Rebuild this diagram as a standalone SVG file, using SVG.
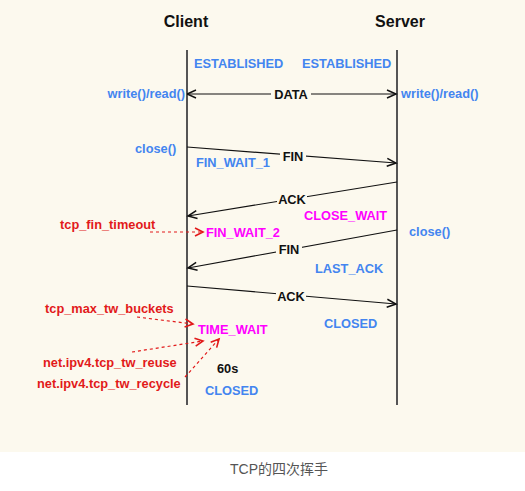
<svg xmlns="http://www.w3.org/2000/svg" width="525" height="491" viewBox="0 0 525 491">
<style>
text{font-family:"Liberation Sans",Arial,sans-serif;font-weight:bold;font-size:12.8px}
.h{font-size:16px;fill:#111}
.b{fill:#4385f0}
.m{fill:#ff00ff}
.r{fill:#e21a1a}
.k{fill:#111}
.cap{font-weight:normal;font-size:14px;fill:#555;font-family:"Liberation Sans","Noto Sans CJK SC",sans-serif}
.life{stroke:#555;stroke-width:2}
.msg{stroke:#111;stroke-width:1.2;fill:none;marker-end:url(#ah)}
.dash{stroke:#e21a1a;stroke-width:1.2;fill:none;stroke-dasharray:3 3;marker-end:url(#ahr)}
.lbl{fill:#fcf9ee}
</style>
<defs>
<marker id="ah" markerWidth="12" markerHeight="12" refX="10" refY="5" orient="auto" markerUnits="userSpaceOnUse">
<path d="M1,1 L10,5 L1,9" fill="none" stroke="#111" stroke-width="1.5"/>
</marker>
<marker id="ahs" markerWidth="12" markerHeight="12" refX="0" refY="5" orient="auto" markerUnits="userSpaceOnUse">
<path d="M9,1 L0,5 L9,9" fill="none" stroke="#111" stroke-width="1.5"/>
</marker>
<marker id="ahr" markerWidth="12" markerHeight="12" refX="9" refY="5" orient="auto" markerUnits="userSpaceOnUse">
<path d="M1,1 L9,5 L1,9" fill="none" stroke="#e21a1a" stroke-width="1.6"/>
</marker>
</defs>
<rect width="525" height="491" fill="#ffffff"/>
<rect width="525" height="452" fill="#fcf9ee"/>

<g id="client">
<text class="h" x="186" y="27" text-anchor="middle">Client</text>
<line class="life" x1="187" y1="50" x2="187" y2="405"/>
</g>
<g id="server">
<text class="h" x="400" y="27" text-anchor="middle">Server</text>
<line class="life" x1="397" y1="50" x2="397" y2="405"/>
</g>

<g id="connectors">
<line class="msg" x1="187" y1="94" x2="396" y2="94" marker-start="url(#ahs)"/>
<line class="msg" x1="187" y1="147" x2="396" y2="163"/>
<line class="msg" x1="397" y1="182" x2="188" y2="216"/>
<line class="msg" x1="397" y1="230" x2="188" y2="268"/>
<line class="msg" x1="187" y1="286" x2="396" y2="304"/>
<line class="dash" x1="150" y1="232" x2="203" y2="232"/>
<line class="dash" x1="137" y1="317" x2="193" y2="324"/>
<line class="dash" x1="132" y1="352" x2="203" y2="341"/>
<line class="dash" x1="185" y1="377" x2="219" y2="339"/>
</g>

<g id="msg-labels">
<rect class="lbl" x="271" y="85" width="40" height="16"/>
<text class="k" x="291" y="99" text-anchor="middle">DATA</text>
<rect class="lbl" x="280" y="148" width="26" height="16"/>
<text class="k" x="293" y="161" text-anchor="middle">FIN</text>
<rect class="lbl" x="277" y="191" width="30" height="16"/>
<text class="k" x="292" y="204" text-anchor="middle">ACK</text>
<rect class="lbl" x="276" y="241" width="26" height="16"/>
<text class="k" x="289" y="254" text-anchor="middle">FIN</text>
<rect class="lbl" x="276" y="288" width="30" height="16"/>
<text class="k" x="291" y="301" text-anchor="middle">ACK</text>
</g>

<g id="states">
<text class="b" x="194" y="68">ESTABLISHED</text>
<text class="b" x="302" y="68">ESTABLISHED</text>
<text class="b" x="185" y="98" text-anchor="end">write()/read()</text>
<text class="b" x="401" y="98">write()/read()</text>
<text class="b" x="135" y="153">close()</text>
<text class="b" x="196" y="167">FIN_WAIT_1</text>
<text class="m" x="304" y="220">CLOSE_WAIT</text>
<text class="r" x="60" y="229">tcp_fin_timeout</text>
<text class="m" x="206" y="237">FIN_WAIT_2</text>
<text class="b" x="409" y="236">close()</text>
<text class="b" x="315" y="273">LAST_ACK</text>
<text class="b" x="324" y="328">CLOSED</text>
<text class="r" x="45" y="313">tcp_max_tw_buckets</text>
<text class="m" x="198" y="334">TIME_WAIT</text>
<text class="r" x="43" y="367">net.ipv4.tcp_tw_reuse</text>
<text class="k" x="217" y="373">60s</text>
<text class="r" x="37" y="388">net.ipv4.tcp_tw_recycle</text>
<text class="b" x="205" y="395">CLOSED</text>
</g>

<text class="cap" x="279" y="474" text-anchor="middle">TCP的四次挥手</text>
</svg>
